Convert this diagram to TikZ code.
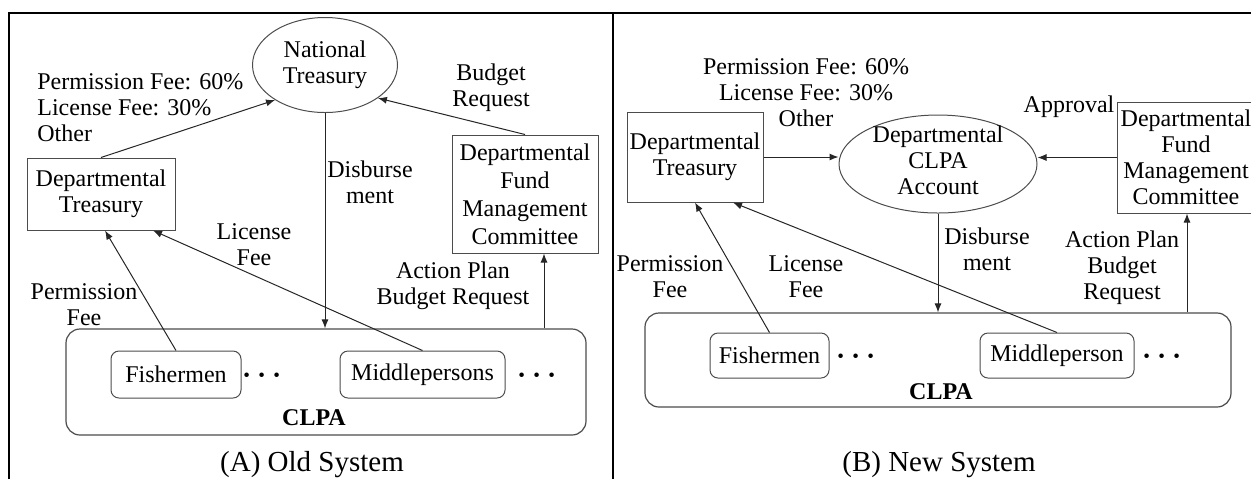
\documentclass[tikz,border=0pt]{standalone}
\usepackage{amsmath}
\usepackage{fontspec}
\setmainfont{Liberation Serif}
\usepackage{tikz}
\usetikzlibrary{arrows.meta,shapes.geometric}

\begin{document}
\begin{tikzpicture}[x=0.5pt,y=-0.5pt,
		txt/.style={font=\fontsize{12}{13}\selectfont,align=center,inner sep=0pt},
		box/.style={draw=black!70,line width=0.5pt,txt},
		pill/.style={box,rounded corners=4pt},
		group/.style={draw=black!70,line width=0.6pt,rounded corners=7pt,inner sep=0pt},
		flow/.style={draw=black!85,line width=0.5pt,-{Latex[length=4.5pt,width=3.5pt]}},
		frame/.style={line width=1.3pt}]
	\useasboundingbox (0,0) rectangle (1251,479);
	% table rules
	\draw[frame] (9,479) -- (9,13) -- (1251,13);
	\draw[frame] (613,13) -- (613,479);

	% ---------- (A) old system ----------
	\node[box,ellipse,minimum width=72.5pt,minimum height=47.5pt] (ntA) at (325,65) {National\\Treasury};
	\node[box,minimum width=74pt,minimum height=36pt] (dtA) at (101,194) {Departmental\\Treasury};
	\node[box,minimum width=73pt,minimum height=59pt,font=\fontsize{12}{14}\selectfont] (dfmcA) at (525,194) {Departmental\\Fund\\Management\\Committee};
	\node[group,minimum width=260pt,minimum height=53pt] (clpaA) at (326,382) {};
	\node[pill,minimum width=65pt,minimum height=23.5pt] (fishA) at (176,374.5) {Fishermen};
	\node[pill,minimum width=82.5pt,minimum height=23.5pt] (midA) at (422.5,374.5) {Middlepersons};
	\node[txt,font=\fontsize{14}{14}\selectfont] (dotsA1) at (265,376) {$\boldsymbol{\cdots}$};
	\node[txt,font=\fontsize{14}{14}\selectfont] (dotsA2) at (540,376) {$\boldsymbol{\cdots}$};
	\node[txt,font=\fontsize{12}{13}\bfseries] (clpaAlbl) at (314,418) {CLPA};
	% flows
	\draw[flow] (dtA.north) -- (ntA.215);
	\draw[flow] (dfmcA.north) -- (ntA.-32);
	\draw[flow] (ntA.south) -- (ntA.south |- clpaA.north);
	\coordinate (apA) at ([xshift=9.5pt]dfmcA.south);
	\draw[flow] (apA |- clpaA.north) -- (apA);
	\draw[flow] (fishA.north) -- ([xshift=2pt]dtA.south);
	\draw[flow] (midA.north) -- ([xshift=26pt]dtA.south);
	% labels
	\node[txt,align=left,anchor=west] (feesA) at (37,108) {Permission Fee: 60\%\\License Fee: 30\%\\Other};
	\node[txt] (budA) at (491,88) {Budget\\Request};
	\node[txt] (disA) at (370,182) {Disburse\\ment};
	\node[txt] (licA) at (254,245) {License\\Fee};
	\node[txt] (perA) at (84,305) {Permission\\Fee};
	\node[txt] (actA) at (453,286) {Action Plan\\Budget Request};
	\node[txt,font=\fontsize{14.5}{16}\selectfont] (capA) at (312,465) {(A) Old System};

	% ---------- (B) new system ----------
	\node[box,ellipse,minimum width=99pt,minimum height=49pt] (acct) at (938,164) {};
	\node[txt] (acctlbl) at (938,160) {Departmental\\CLPA\\Account};
	\node[box,minimum width=68pt,minimum height=45pt] (dtB) at (695,157) {Departmental\\Treasury};
	\node[box,minimum width=69pt,minimum height=55.5pt] (dfmcB) at (1186,157.5) {Departmental\\Fund\\Management\\Committee};
	\node[group,minimum width=293pt,minimum height=47pt] (clpaB) at (938,360) {};
	\node[pill,minimum width=59.5pt,minimum height=22.5pt] (fishB) at (769.5,355.5) {Fishermen};
	\node[pill,minimum width=77pt,minimum height=22.5pt] (midB) at (1057,355.5) {Middleperson};
	\node[txt,font=\fontsize{14}{14}\selectfont] (dotsB1) at (859,357) {$\boldsymbol{\cdots}$};
	\node[txt,font=\fontsize{14}{14}\selectfont] (dotsB2) at (1165,357) {$\boldsymbol{\cdots}$};
	\node[txt,font=\fontsize{12}{13}\bfseries] (clpaBlbl) at (941,392) {CLPA};
	% flows
	\draw[flow] (dtB.east) -- (dtB.east -| acct.west);
	\draw[flow] (dfmcB.west) -- (dfmcB.west -| acct.east);
	\draw[flow] (acct.south) -- (acct.south |- clpaB.north);
	\coordinate (apB) at ([xshift=0.5pt]dfmcB.south);
	\draw[flow] (apB |- clpaB.north) -- (apB);
	\draw[flow] (fishB.north) -- (dtB.south);
	\draw[flow] (midB.north) -- ([xshift=19pt]dtB.south);
	% labels
	\node[txt] (feesB) at (806,93) {Permission Fee: 60\%\\License Fee: 30\%\\Other};
	\node[txt] (appB) at (1069,107) {Approval};
	\node[txt] (disB) at (987,249) {Disburse\\ment};
	\node[txt] (actB) at (1122,268) {Action Plan\\Budget\\Request};
	\node[txt] (perB) at (670,277) {Permission\\Fee};
	\node[txt] (licB) at (806,277) {License\\Fee};
	\node[txt,font=\fontsize{14.5}{16}\selectfont] (capB) at (939,465) {(B) New System};
\end{tikzpicture}
\end{document}
